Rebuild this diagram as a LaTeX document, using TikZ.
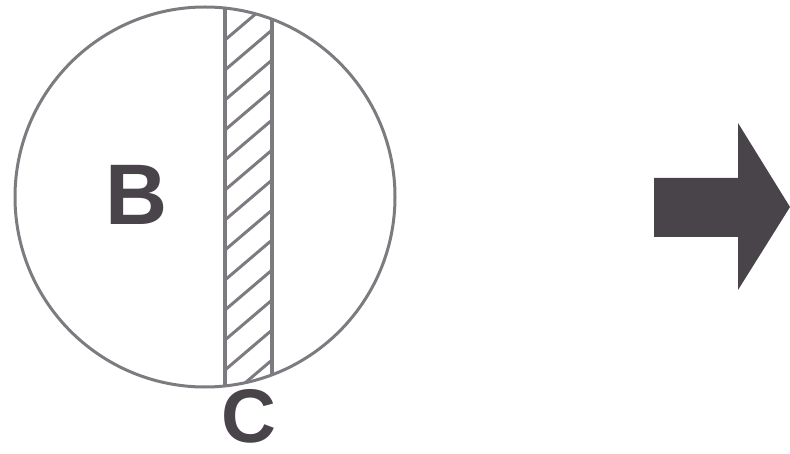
\documentclass[tikz,border=0pt]{standalone}
\usepackage{fontspec}
\setmainfont{Liberation Sans}
\begin{document}
\begin{tikzpicture}[x=1pt,y=-1pt]
\definecolor{edgegray}{RGB}{125,122,128}
\definecolor{ink}{RGB}{72,68,74}
\tikzset{
  outline/.style={draw=edgegray,line width=3pt},
  hatchline/.style={draw=edgegray,line width=3pt},
  lbl/.style={font=\fontsize{86}{86}\selectfont\bfseries,text=ink,inner sep=0pt},
  bigarrow/.style={fill=ink,draw=none}
}
\useasboundingbox (0,0) rectangle (790,454);
% hatching in the strip
\begin{scope}
  \clip (205,197) circle (190);
  \clip (225,0) rectangle (272,454);
  \foreach \y in {40,70,...,430} {
    \draw[hatchline] (225,\y) -- (272,\y-40);
  }
\end{scope}
% circle
\draw[outline] (205,197) circle (190);
% strip borders
\begin{scope}
  \clip (205,197) circle (190);
  \draw[edgegray,line width=4pt] (225,0) -- (225,454);
  \draw[edgegray,line width=4pt] (272,0) -- (272,454);
\end{scope}
% labels
\node[lbl] (B) at (137,195) {B};
\node[lbl,font=\fontsize{76}{76}\selectfont\bfseries] (C) at (249,416) {C};
% arrow
\fill[bigarrow] (654,178) -- (738,178) -- (738,123) -- (790,207) -- (738,290) -- (738,237) -- (654,237) -- cycle;
\end{tikzpicture}
\end{document}
